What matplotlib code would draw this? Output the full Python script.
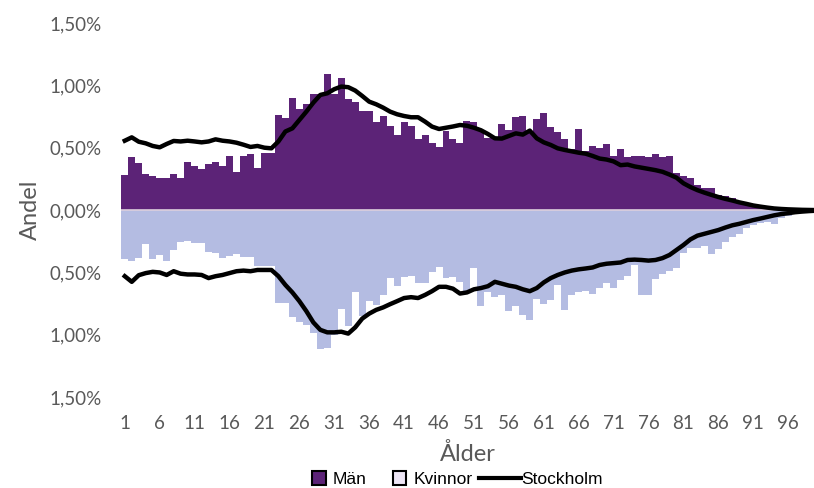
import numpy as np
import matplotlib.pyplot as plt
from matplotlib.patches import Patch
from matplotlib.lines import Line2D

# alder 1-100, andel i procent
alder = list(range(1, 101))

man = [0.278, 0.423, 0.38, 0.286, 0.273, 0.257, 0.257, 0.286, 0.257, 0.383,
       0.353, 0.332, 0.372, 0.388, 0.353, 0.436, 0.305, 0.436, 0.447, 0.34,
       0.46, 0.46, 0.76, 0.738, 0.896, 0.808, 0.851, 0.928, 0.928, 1.09,
       0.93, 1.057, 0.888, 0.864, 0.797, 0.797, 0.704, 0.754, 0.672, 0.602,
       0.706, 0.677, 0.57, 0.602, 0.54, 0.508, 0.634, 0.567, 0.535, 0.717,
       0.706, 0.64, 0.58, 0.58, 0.69, 0.642, 0.744, 0.757, 0.62, 0.733,
       0.781, 0.669, 0.626, 0.572, 0.487, 0.65, 0.47, 0.516, 0.495, 0.527,
       0.43, 0.492, 0.423, 0.436, 0.436, 0.425, 0.447, 0.428, 0.43, 0.294,
       0.275, 0.254, 0.2, 0.18, 0.177, 0.118, 0.11, 0.096, 0.07, 0.06,
       0.045, 0.035, 0.025, 0.02, 0.015, 0.01, 0.007, 0.005, 0.003, 0.002]

kvinnor = [0.396, 0.409, 0.388, 0.275, 0.39, 0.356, 0.409, 0.321, 0.254, 0.249,
           0.26, 0.267, 0.334, 0.342, 0.388, 0.366, 0.353, 0.38, 0.38, 0.447,
           0.447, 0.447, 0.741, 0.741, 0.856, 0.896, 0.918, 0.985, 1.11, 1.105,
           1.0, 0.795, 0.93, 0.66, 0.85, 0.73, 0.757, 0.682, 0.548, 0.607,
           0.535, 0.53, 0.588, 0.588, 0.495, 0.455, 0.543, 0.535, 0.58, 0.65,
           0.468, 0.768, 0.66, 0.696, 0.682, 0.81, 0.768, 0.837, 0.877, 0.709,
           0.754, 0.717, 0.602, 0.797, 0.677, 0.66, 0.65, 0.669, 0.623, 0.588,
           0.623, 0.562, 0.53, 0.441, 0.682, 0.682, 0.554, 0.516, 0.49, 0.463,
           0.342, 0.302, 0.3, 0.29, 0.348, 0.308, 0.254, 0.214, 0.195, 0.147,
           0.12, 0.107, 0.094, 0.115, 0.06, 0.045, 0.03, 0.02, 0.012, 0.008]

sthlm_man = [0.556, 0.583, 0.548, 0.535, 0.514, 0.503, 0.53, 0.554, 0.55, 0.556,
             0.55, 0.543, 0.55, 0.567, 0.556, 0.55, 0.54, 0.524, 0.506, 0.514,
             0.5, 0.495, 0.55, 0.63, 0.655, 0.722, 0.789, 0.861, 0.923, 0.936,
             0.969, 0.99, 0.985, 0.958, 0.915, 0.869, 0.848, 0.821, 0.789, 0.768,
             0.754, 0.744, 0.744, 0.709, 0.669, 0.65, 0.66, 0.67, 0.682, 0.676,
             0.66, 0.64, 0.61, 0.575, 0.573, 0.594, 0.615, 0.605, 0.637, 0.575,
             0.543, 0.522, 0.495, 0.482, 0.471, 0.46, 0.452, 0.434, 0.413, 0.405,
             0.39, 0.36, 0.365, 0.35, 0.34, 0.33, 0.32, 0.307, 0.285, 0.26,
             0.215, 0.185, 0.16, 0.14, 0.122, 0.105, 0.09, 0.077, 0.062, 0.05,
             0.037, 0.028, 0.02, 0.013, 0.009, 0.006, 0.004, 0.002, 0.001, 0.0]

sthlm_kvinnor = [0.53, 0.575, 0.522, 0.505, 0.495, 0.5, 0.52, 0.49, 0.51, 0.516,
                 0.516, 0.52, 0.545, 0.53, 0.52, 0.505, 0.49, 0.485, 0.49, 0.48,
                 0.48, 0.48, 0.53, 0.6, 0.66, 0.73, 0.81, 0.9, 0.96, 0.98,
                 0.98, 0.975, 0.99, 0.94, 0.87, 0.83, 0.8, 0.78, 0.754, 0.73,
                 0.705, 0.698, 0.705, 0.68, 0.65, 0.615, 0.615, 0.63, 0.669, 0.66,
                 0.635, 0.625, 0.61, 0.575, 0.59, 0.605, 0.615, 0.635, 0.65, 0.625,
                 0.58, 0.545, 0.52, 0.5, 0.485, 0.475, 0.468, 0.46, 0.44, 0.43,
                 0.425, 0.42, 0.4, 0.397, 0.4, 0.405, 0.4, 0.385, 0.36, 0.32,
                 0.28, 0.235, 0.205, 0.19, 0.175, 0.16, 0.14, 0.122, 0.11, 0.095,
                 0.08, 0.068, 0.055, 0.042, 0.032, 0.025, 0.017, 0.012, 0.008, 0.005]

x_ticks = list(range(1, 100, 5))
y_ticks = [-1.5, -1.0, -0.5, 0.0, 0.5, 1.0, 1.5]

plt.rcParams['font.family'] = ['Lato', 'DejaVu Sans']

fig = plt.figure(figsize=(8.14, 4.88), dpi=100)
ax = fig.add_axes([0.149, 0.186, 0.851, 0.767])

ax.bar(alder, man, width=1.0, color='#5c2377', linewidth=0)
ax.bar(alder, -np.array(kvinnor), width=1.0, color='#b4bce2', linewidth=0)
ax.axhline(0, color='#dccfdc', lw=1.2)

ax.plot(alder, sthlm_man, color='black', lw=3.2, solid_joinstyle='round')
ax.plot(alder, -np.array(sthlm_kvinnor), color='black', lw=3.2, solid_joinstyle='round')

ax.set_xlim(0.5, 99.7)
ax.set_ylim(-1.5, 1.5)
ax.set_xticks(x_ticks)
ax.set_xticklabels([str(t) for t in x_ticks])
ax.set_yticks(y_ticks)
ax.set_yticklabels([f"{abs(v):.2f}".replace('.', ',') + '%' for v in y_ticks])

ax.tick_params(axis='both', length=0, labelsize=13.5, colors='#595959')
ax.tick_params(axis='x', pad=13)
ax.tick_params(axis='y', pad=14)
for s in ax.spines.values():
    s.set_visible(False)

ax.set_ylabel('Andel', fontsize=17, color='#595959', labelpad=6)
ax.set_xlabel('Ålder', fontsize=17, color='#595959', labelpad=8)

# legend: rutor och linje i var sin legend for olika handtagslangd
leg_font = {'family': 'Liberation Sans', 'size': 12.5}
boxes = [Patch(facecolor='#5c2377', edgecolor='black', linewidth=1.5),
         Patch(facecolor='#eee6f6', edgecolor='black', linewidth=1.5)]
leg1 = fig.legend(boxes, ['Män', 'Kvinnor'], loc='lower right',
                  bbox_to_anchor=(0.589, -0.012), ncol=2, frameon=False,
                  prop=leg_font, handlelength=0.8, handleheight=0.8,
                  handletextpad=0.4, columnspacing=1.5, borderaxespad=0)
leg2 = fig.legend([Line2D([0], [0], color='black', lw=3)], ['Stockholm'],
                  loc='lower left', bbox_to_anchor=(0.58, -0.012), frameon=False,
                  prop=leg_font, handlelength=2.4, handletextpad=0.05,
                  borderaxespad=0)

fig.savefig('out.png', dpi=100)
